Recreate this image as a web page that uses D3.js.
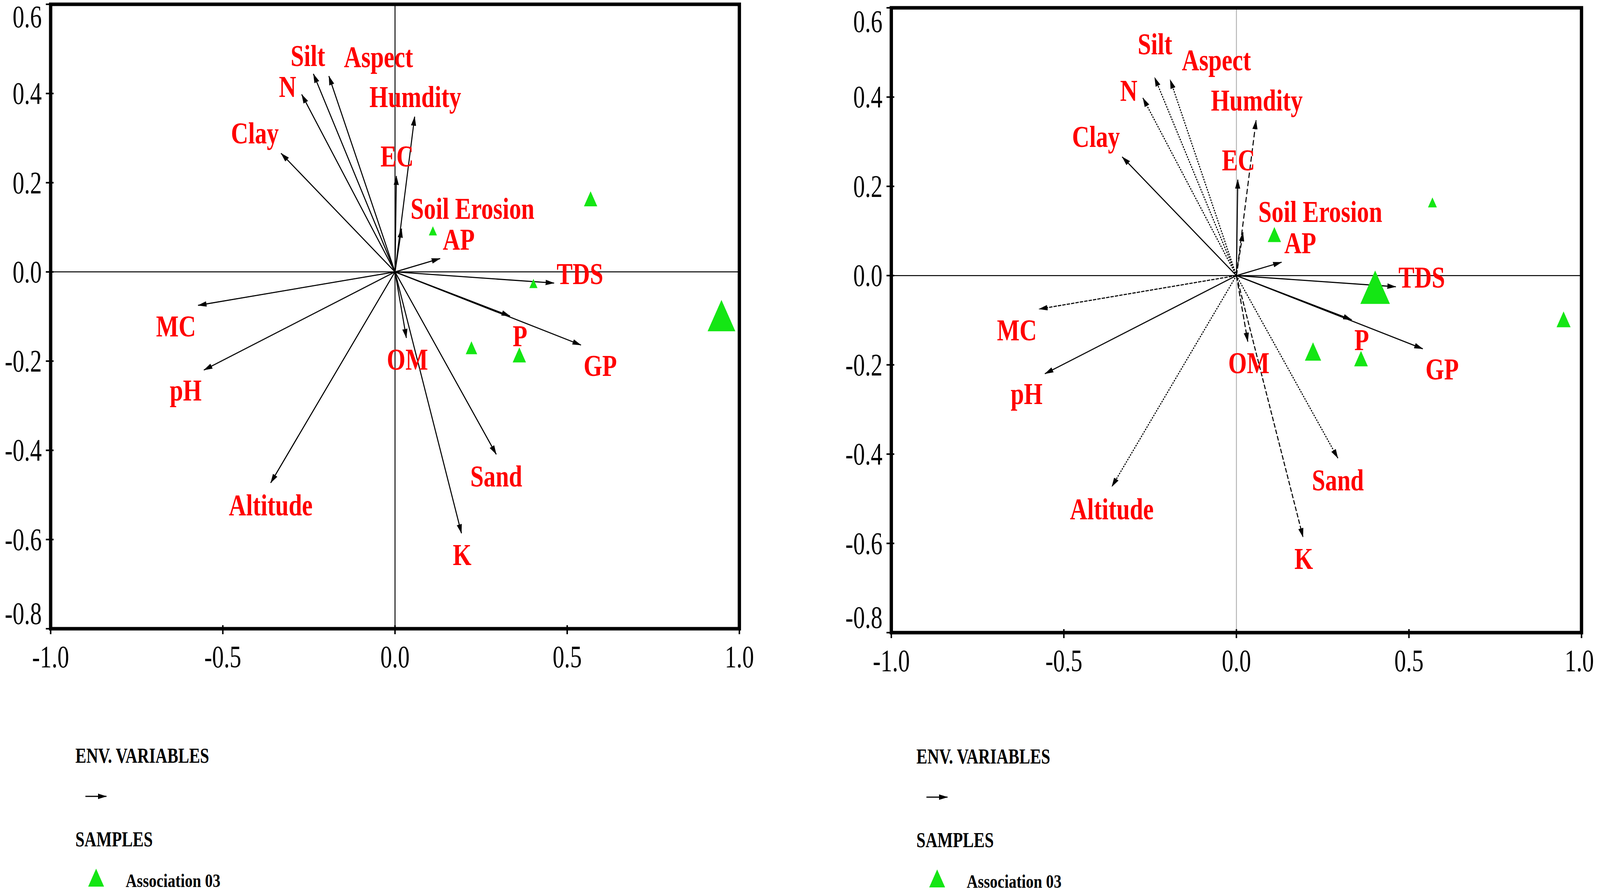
<!DOCTYPE html>
<html><head><meta charset="utf-8">
<script src="https://cdn.jsdelivr.net/npm/d3@7"></script>
<style>html,body{margin:0;padding:0;background:#fff;overflow:hidden}svg{display:block;width:100vw;height:100vh}</style>
</head><body>
<script>
// ---------- DATA ----------
const variables = ["Silt","Aspect","N","Clay","Humdity","EC","Soil Erosion","AP","TDS","P","GP","Sand","K","OM","Altitude","pH","MC"];
const axis1 = [-0.237,-0.192,-0.271,-0.331,0.057,0.004,0.019,0.131,0.462,0.334,0.540,0.294,0.193,0.033,-0.361,-0.555,-0.572];
const axis2 = [0.444,0.439,0.398,0.266,0.348,0.215,0.097,0.030,-0.025,-0.099,-0.164,-0.409,-0.586,-0.148,-0.473,-0.220,-0.075];
const sampleX = [0.568,0.110,0.402,0.948,0.222,0.361];
const sampleY = [0.164,0.092,-0.026,-0.098,-0.170,-0.186];
const sampleWeightA = [3.6,2.2,2.2,7.5,3.1,3.6];
const sampleWeightB = [2.4,3.6,8.0,3.8,4.4,3.7];
const xTicks = [-1.0,-0.5,0.0,0.5,1.0];
const yTicks = [0.6,0.4,0.2,0.0,-0.2,-0.4,-0.6,-0.8];
const sampleGroup = "Association 03";

// ---------- LAYOUT (label anchors in axis units, styles) ----------
const labelAnchorA = {
  "Silt":[-0.253,0.462],"Aspect":[-0.048,0.459],"N":[-0.312,0.392],"Clay":[-0.407,0.288],
  "Humdity":[0.059,0.370],"EC":[0.006,0.236],"Soil Erosion":[0.225,0.119],"AP":[0.185,0.050],
  "TDS":[0.537,-0.027],"P":[0.363,-0.167],"GP":[0.596,-0.233],"Sand":[0.294,-0.481],
  "K":[0.195,-0.657],"OM":[0.036,-0.219],"Altitude":[-0.361,-0.546],"pH":[-0.608,-0.288],"MC":[-0.636,-0.145]
};
const labelAnchorB = Object.assign({}, labelAnchorA, {
  "Silt":[-0.236,0.496],"Aspect":[-0.058,0.460],"Soil Erosion":[0.243,0.120]
});
const dashB = {
  "Silt":"4,3","Aspect":"4,3","N":"4,3","Clay":null,"Humdity":"14,7","EC":null,
  "Soil Erosion":"12,6","AP":null,"TDS":null,"P":null,"GP":null,"Sand":"4,3",
  "K":"12,5","OM":"14,6","Altitude":"4,3","pH":null,"MC":"9,3"
};

const W = 4328, H = 2293;
const FONT = "'Liberation Serif','Times New Roman',Times,serif";
const RED = "#ff0000", GREEN = "#14e614";
const fmt = t => d3.format(".1f")(t).replace("\u2212", "-");

const svg = d3.select("body").append("svg")
  .attr("viewBox", `0 0 ${W} ${H}`).attr("preserveAspectRatio", "none");
svg.append("rect").attr("width", W).attr("height", H).attr("fill", "#fff");

const defs = svg.append("defs");
defs.append("marker").attr("id","ah").attr("markerUnits","userSpaceOnUse")
  .attr("viewBox","0 -8 24 16").attr("refX",23).attr("refY",0)
  .attr("markerWidth",24).attr("markerHeight",16).attr("orient","auto")
  .append("path").attr("d","M0,-7L24,0L0,7Z").attr("fill","#000");

function txt(g, x, y, s, o) {
  return g.append("text")
    .attr("transform", `translate(${x},${y}) scale(${o.sx},1)`)
    .attr("text-anchor", o.anchor || "start")
    .attr("font-family", FONT).attr("font-size", o.size)
    .attr("font-weight", o.weight || "normal")
    .attr("fill", o.fill || "#000").text(s);
}

function triPath(w) {
  const h = w * 1.07;
  return `M0,${-h/2}L${w/2},${h/2}L${-w/2},${h/2}Z`;
}

function panel(cfg) {
  const g = svg.append("g");
  const x = d3.scaleLinear().domain([-1, 1]).range([cfg.x0, cfg.x1]);
  const y = d3.scaleLinear().domain([-0.8, 0.6]).range([cfg.y1, cfg.y0]);
  const size = d3.scaleLinear().domain([0, 1]).range([0, 10]);

  // zero lines
  g.append("line").attr("x1", x(-1)).attr("x2", x(1)).attr("y1", y(0)).attr("y2", y(0))
    .attr("stroke", "#000").attr("stroke-width", 2.5);
  g.append("line").attr("x1", x(0)).attr("x2", x(0)).attr("y1", y(-0.8)).attr("y2", y(0.6))
    .attr("stroke", cfg.vzero).attr("stroke-width", 2.5);

  // arrows
  const arr = variables.map((v, i) => ({v, a: axis1[i], b: axis2[i]}));
  g.selectAll("line.arrow").data(arr).enter().append("line").attr("class","arrow")
    .attr("x1", x(0)).attr("y1", y(0))
    .attr("x2", d => x(d.a)).attr("y2", d => y(d.b))
    .attr("stroke", "#000").attr("stroke-width", 2.8)
    .attr("stroke-dasharray", d => cfg.dash ? cfg.dash[d.v] : null)
    .attr("marker-end", "url(#ah)");

  // samples
  const smp = sampleX.map((sx, i) => ({sx, sy: sampleY[i], w: cfg.weights[i]}));
  g.selectAll("path.smp").data(smp).enter().append("path").attr("class","smp")
    .attr("transform", d => `translate(${x(d.sx)},${y(d.sy)})`)
    .attr("d", d => triPath(size(d.w))).attr("fill", GREEN);

  // labels
  variables.forEach(v => {
    const p = cfg.labels[v];
    txt(g, x(p[0]), y(p[1]), v, {size: 78, weight: "bold", fill: RED, anchor: "middle", sx: 0.83});
  });

  // frame
  g.append("rect").attr("x", cfg.x0).attr("y", cfg.y0)
    .attr("width", cfg.x1 - cfg.x0).attr("height", cfg.y1 - cfg.y0)
    .attr("fill", "none").attr("stroke", "#000").attr("stroke-width", 9);

  // ticks
  g.selectAll("line.xt").data(xTicks).enter().append("line")
    .attr("x1", d => x(d)).attr("x2", d => x(d))
    .attr("y1", cfg.y1 - 9).attr("y2", cfg.y1 + 14)
    .attr("stroke", "#000").attr("stroke-width", 4);
  g.selectAll("line.yt").data(yTicks).enter().append("line")
    .attr("y1", d => y(d)).attr("y2", d => y(d))
    .attr("x1", cfg.x0 - 13).attr("x2", cfg.x0 + 8)
    .attr("stroke", "#000").attr("stroke-width", 4);

  xTicks.forEach(t => {
    const px = Math.min(x(t), W - 56);
    txt(g, px, cfg.y1 + 99, fmt(t), {size: 80, anchor: "middle", sx: 0.79});
  });
  yTicks.forEach(t => {
    let by = y(t) + 27;
    by = Math.max(by, cfg.y0 + cfg.topPad);
    by = Math.min(by, cfg.y1 - 12);
    txt(g, cfg.x0 - 24, by, fmt(t), {size: 80, anchor: "end", sx: 0.79});
  });

  // legend
  const lx = cfg.legX, ly = cfg.legY;
  txt(g, lx, ly, "ENV. VARIABLES", {size: 54, weight: "bold", sx: 0.82});
  g.append("line").attr("x1", lx + 27).attr("x2", lx + 84).attr("y1", ly + 86).attr("y2", ly + 86)
    .attr("stroke", "#000").attr("stroke-width", 3).attr("marker-end", "url(#ah)");
  txt(g, lx, ly + 214, "SAMPLES", {size: 54, weight: "bold", sx: 0.82});
  g.append("path").attr("transform", `translate(${lx + 56},${ly + 294})`)
    .attr("d", triPath(size(4.3))).attr("fill", GREEN);
  txt(g, lx + 136, ly + 318, sampleGroup, {size: 48, weight: "bold", sx: 0.87});
}

panel({x0: 137, x1: 2000, y0: 11, y1: 1609, vzero: "#000", dash: null,
  weights: sampleWeightA, labels: labelAnchorA, topPad: 59, legX: 204, legY: 1952});
panel({x0: 2411, x1: 4278, y0: 20, y1: 1619, vzero: "#b4b4b4", dash: dashB,
  weights: sampleWeightB, labels: labelAnchorB, topPad: 62, legX: 2479, legY: 1954});
</script>
</body></html>
